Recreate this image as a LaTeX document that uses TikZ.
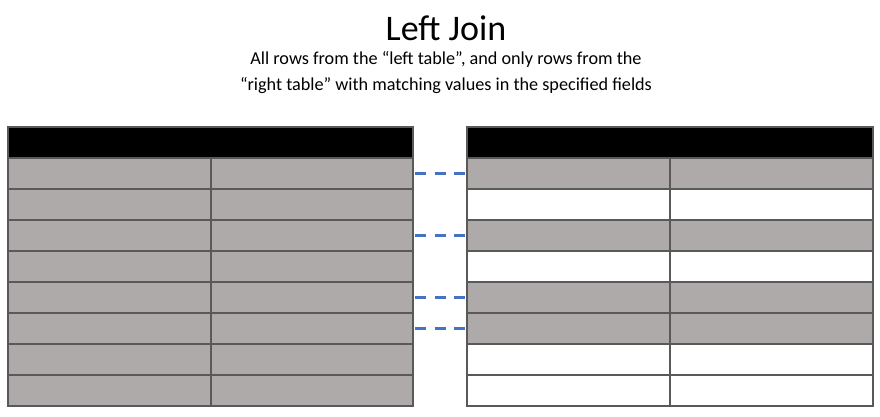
\documentclass[tikz,border=0pt]{standalone}
\usepackage{fontspec}
\setmainfont{Carlito}
\usetikzlibrary{positioning}
\definecolor{shade}{HTML}{AEAAAA}
\definecolor{rule} {HTML}{595959}
\definecolor{link} {HTML}{4472C4}

\begin{document}
\begin{tikzpicture}[x=1pt,y=-1pt,
    cell/.style={draw=rule,line width=1.2pt,minimum height=31pt,
                 inner sep=0pt,outer sep=0pt,anchor=north west},
    matchline/.style={draw=link,line width=2.6pt,dash pattern=on 11pt off 8.5pt}]
  \useasboundingbox (0,0) rectangle (880,416);
  \node[font=\fontsize{36}{40}\selectfont] (title) at (446,28) {Left Join};
  \node[font=\fontsize{18.2}{26}\selectfont,align=center,below=4pt of title] (sub)
    {All rows from the “left table”, and only rows from the\\
     “right table” with matching values in the specified fields};
  % header bars
  \node[cell,fill=black,minimum width=405pt] (Lhead) at (8,127) {};
  \node[cell,fill=black,minimum width=406pt] (Rhead) at (467,127) {};
  % left table: every row kept
  \foreach \i in {1,...,8} {
    \node[cell,fill=shade,minimum width=203pt] (L\i a) at (8,127+31*\i) {};
    \node[cell,fill=shade,minimum width=202pt,right=0pt of L\i a] (L\i b) {};
  }
  % right table: only matches shaded
  \foreach \i/\f in {1/shade,2/white,3/shade,4/white,5/shade,6/shade,7/white,8/white} {
    \node[cell,fill=\f,minimum width=203pt] (R\i a) at (467,127+31*\i) {};
    \node[cell,fill=\f,minimum width=203pt,right=0pt of R\i a] (R\i b) {};
  }
  % matching rows
  \foreach \i in {1,3,5,6}
    \draw[matchline,shorten <=2pt] (L\i b.east) -- (R\i a.west);
\end{tikzpicture}
\end{document}
